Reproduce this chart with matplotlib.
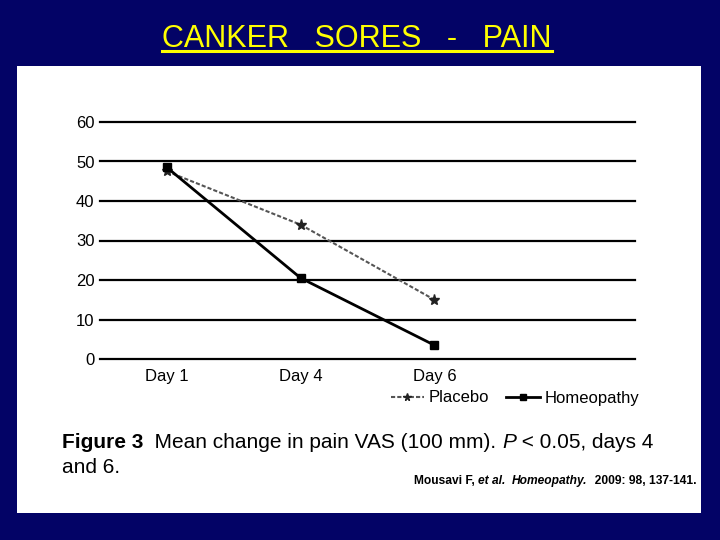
import matplotlib
matplotlib.use('Agg')
import matplotlib.pyplot as plt
from matplotlib.patches import Rectangle
from matplotlib.lines import Line2D

# values
days = ['Day 1', 'Day 4', 'Day 6']
placebo = [47.5, 34, 15]
homeopathy = [48.5, 20.5, 3.5]
yticks = [0, 10, 20, 30, 40, 50, 60]

W, H = 720, 540
NAVY = '#030366'

plt.rcParams['font.family'] = ['Liberation Sans', 'DejaVu Sans']


def fx(x):
    return x / W


def fy(y):
    return 1 - y / H


fig = plt.figure(figsize=(7.2, 5.4), dpi=100, facecolor=NAVY)
renderer = fig.canvas.get_renderer()

# white "slide" panel holding the scanned figure
fig.patches.append(Rectangle((fx(17), fy(513)), (701 - 17) / W, (513 - 66) / H,
                             transform=fig.transFigure, facecolor='white',
                             edgecolor='none', zorder=-5))

ax = fig.add_axes([fx(100), fy(359), (635 - 100) / W, (359 - 122) / H])
ax.set_zorder(2)
ax.set_facecolor('none')
for s in ax.spines.values():
    s.set_visible(False)

for v in yticks:
    ax.axhline(v, color='black', lw=1.6, zorder=1, clip_on=False)

x = list(range(len(days)))
lp, = ax.plot(x, placebo, color='#555555', lw=1.5, ls=(0, (2, 1)),
              marker='*', ms=8, mfc='#222222', mec='#222222', zorder=3,
              clip_on=False, label='Placebo')
lh, = ax.plot(x, homeopathy, color='black', lw=2, marker='s', ms=6,
              zorder=4, clip_on=False, label='Homeopathy')

ax.set_xlim(-0.5, 3.5)
ax.set_ylim(0, 60)
ax.set_yticks(yticks)
ax.set_xticks(x)
ax.set_xticklabels(days)
ax.tick_params(axis='both', length=0, labelsize=12, colors='black')
ax.tick_params(axis='y', pad=4)
ax.tick_params(axis='x', pad=7)

leg = fig.legend(handles=[lp, lh], labels=['Placebo', 'Homeopathy'], loc='center',
                 bbox_to_anchor=(fx(515), fy(398)), ncol=2, frameon=False,
                 fontsize=12, handlelength=2.0, columnspacing=1.0,
                 handletextpad=0.3, markerscale=0.7)
leg.set_zorder(3)


def rich_text(x0, y0, pieces, size):
    # lay text pieces side by side on one baseline
    xcur = x0
    for s, weight, style in pieces:
        t = fig.text(fx(xcur), fy(y0), s, fontsize=size, fontweight=weight,
                     fontstyle=style, va='baseline', ha='left', color='black',
                     zorder=3)
        xcur += t.get_window_extent(renderer).width


rich_text(62, 448, [('Figure 3', 'bold', 'normal'),
                    ('  Mean change in pain VAS (100 mm). ', 'normal', 'normal'),
                    ('P', 'normal', 'italic'),
                    (' < 0.05, days 4', 'normal', 'normal')], 15)
rich_text(62, 473, [('and 6.', 'normal', 'normal')], 15)

rich_text(414, 484, [('Mousavi F, ', 'bold', 'normal'),
                     ('et al.', 'bold', 'italic'),
                     ('  ', 'bold', 'normal'),
                     ('Homeopathy.', 'bold', 'italic'),
                     ('  2009: 98, 137-141.', 'bold', 'normal')], 8.65)

# title with underline
title = fig.text(fx(357), fy(47), 'CANKER   SORES   -   PAIN', color='#FFFF00',
                 fontsize=22, ha='center', va='baseline')
bb = title.get_window_extent(renderer)
fig.lines.append(Line2D([bb.x0 / W, bb.x1 / W], [fy(51), fy(51)],
                        transform=fig.transFigure, color='#FFFF00', lw=2.2))

fig.savefig('out.png', dpi=100, facecolor=NAVY)
